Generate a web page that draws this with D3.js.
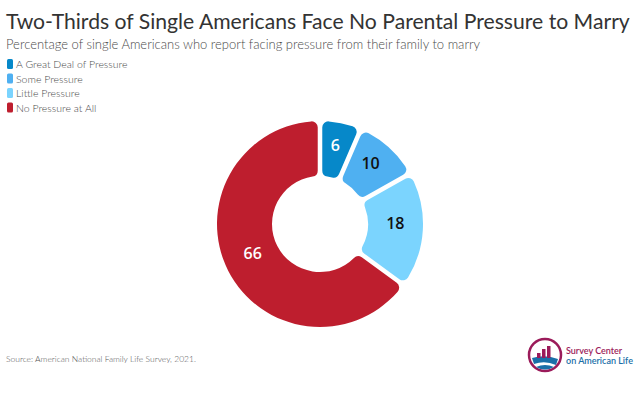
<!DOCTYPE html>
<html>
<head>
<meta charset="utf-8">
<script src="https://cdn.jsdelivr.net/npm/d3@7"></script>
<style>
	body { margin: 0; background: #fff; }
	svg { display: block; font-family: Lato, "Open Sans", sans-serif; }
</style>
</head>
<body>
<div id="chart"></div>
<script>
// data
const categories = ["A Great Deal of Pressure", "Some Pressure", "Little Pressure", "No Pressure at All"];
const values = [6, 10, 18, 66];
const colors = ["#0688c9", "#4fb0f1", "#7bd4fe", "#be1e2e"];
const labelColors = ["#fff", "#111", "#111", "#fff"];

const width = 640, height = 393;
const cx = 320, cy = 224;
const outerR = 103, innerR = 48;

const svg = d3.select("#chart")
	.append("svg")
	.attr("width", width)
	.attr("height", height);

// fit a text to a target width by changing its font size
function fitText(sel, target) {
	const len = sel.node().getComputedTextLength();
	const fs = +sel.attr("font-size");
	sel.attr("font-size", (fs * target / len).toFixed(2));
}

// title + subtitle
const title = svg.append("text")
	.attr("x", 6).attr("y", 29)
	.attr("font-size", 23)
	.attr("fill", "#333")
	.text("Two-Thirds of Single Americans Face No Parental Pressure to Marry");
fitText(title, 624);

const subtitle = svg.append("text")
	.attr("x", 6).attr("y", 49)
	.attr("font-size", 13.5)
	.attr("font-weight", 300)
	.attr("fill", "#4a4a4a")
	.text("Percentage of single Americans who report facing pressure from their family to marry");
fitText(subtitle, 474);

// legend
const legend = svg.append("g")
	.selectAll("g")
	.data(categories)
	.join("g")
	.attr("transform", (d, i) => `translate(7, ${64 + i * 14.5})`);

legend.append("rect")
	.attr("x", 0).attr("y", -5)
	.attr("width", 6).attr("height", 10)
	.attr("rx", 1.5)
	.attr("fill", (d, i) => colors[i]);

legend.append("text")
	.attr("x", 9).attr("y", 4)
	.attr("font-size", 10.5)
	.attr("font-weight", 300)
	.attr("fill", "#4a4a4a")
	.text((d) => d);

// donut
const pie = d3.pie().sort(null).value((d) => d).padAngle(0.04);
const arc = d3.arc().innerRadius(innerR).outerRadius(outerR).cornerRadius(6);
const labelArc = d3.arc().innerRadius((innerR + outerR) / 2).outerRadius((innerR + outerR) / 2);

const g = svg.append("g").attr("transform", `translate(${cx},${cy})`);

g.selectAll("path")
	.data(pie(values))
	.join("path")
	.attr("d", arc)
	.attr("fill", (d, i) => colors[i]);

g.selectAll("text")
	.data(pie(values))
	.join("text")
	.attr("transform", (d) => {
		const [x, y] = labelArc.centroid(d);
		return `translate(${x},${y - 5})`;
	})
	.attr("text-anchor", "middle")
	.attr("dy", "0.35em")
	.attr("font-family", "'Open Sans', sans-serif")
	.attr("font-weight", 600)
	.attr("font-size", 16)
	.attr("fill", (d, i) => labelColors[i])
	.text((d) => d.data);

// source
const source = svg.append("text")
	.attr("x", 6).attr("y", 362)
	.attr("font-size", 9.5)
	.attr("font-weight", 300)
	.attr("fill", "#555")
	.text("Source: American National Family Life Survey, 2021.");
fitText(source, 190);

// logo
const logo = svg.append("g").attr("transform", "translate(545,355)");
logo.append("circle")
	.attr("r", 16)
	.attr("fill", "none")
	.attr("stroke", "#9b1b5a")
	.attr("stroke-width", 2.5);
logo.append("path")
	.attr("d", "M-13,3 Q0,-1 13,4 L11,10 Q0,5 -11,9 Z")
	.attr("fill", "#1a6fa8");
logo.append("path")
	.attr("d", "M-9,12 Q0,8 9,12 Q0,17 -9,12 Z")
	.attr("fill", "#1a6fa8");
[[-8, -2, 5], [-3, -6, 9], [2, -9, 12]].forEach(([x, y, h]) => {
	logo.append("rect")
		.attr("x", x).attr("y", y)
		.attr("width", 3.5).attr("height", h)
		.attr("fill", "#9b1b5a");
});
svg.append("text")
	.attr("x", 566).attr("y", 354)
	.attr("font-size", 9)
	.attr("font-weight", 600)
	.attr("fill", "#9b1b5a")
	.text("Survey Center");
svg.append("text")
	.attr("x", 566).attr("y", 364)
	.attr("font-size", 9)
	.attr("font-weight", 600)
	.attr("fill", "#1a6fa8")
	.text("on American Life");
</script>
</body>
</html>
